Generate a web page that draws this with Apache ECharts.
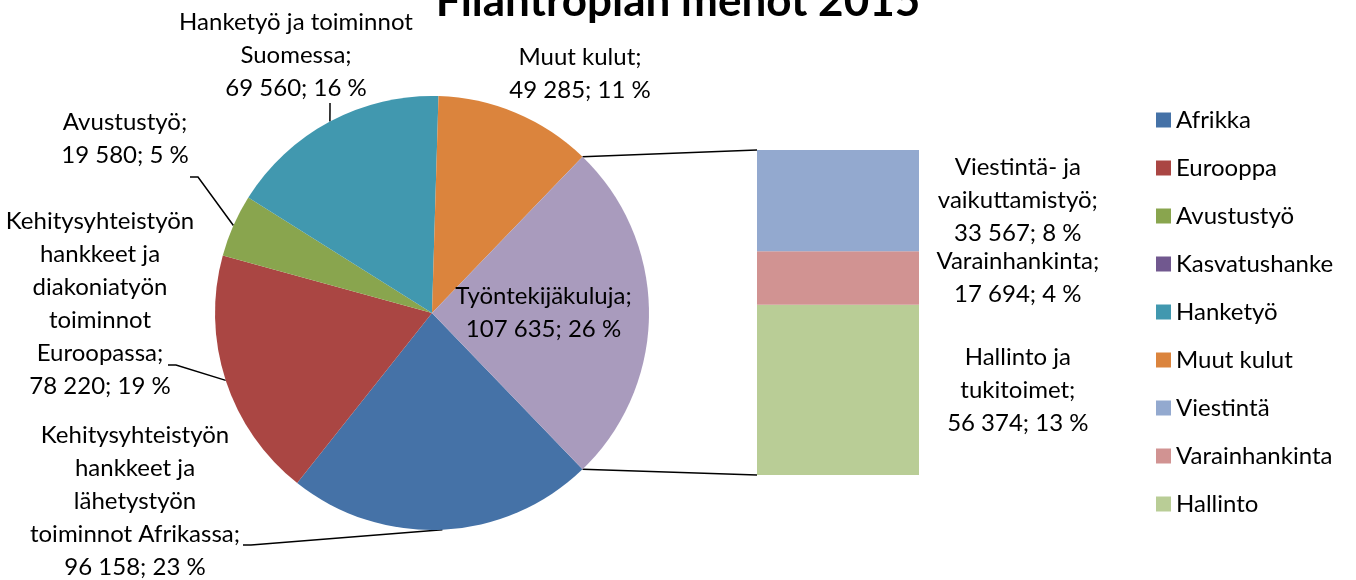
<!DOCTYPE html>
<html>
<head>
<meta charset="utf-8">
<script src="https://cdn.jsdelivr.net/npm/echarts@6/dist/echarts.min.js"></script>
<style>
  html, body { margin: 0; padding: 0; background: #ffffff; }
  #chart { width: 1356px; height: 580px; }
</style>
</head>
<body>
<div id="chart"></div>
<script>
// ---------- data ----------
const titleText = 'Filantropian menot 2015';

// pie slices (legend names, label texts, values, displayed shares)
const pieNames  = ['Afrikka', 'Eurooppa', 'Avustustyö', 'Kasvatushanke', 'Hanketyö', 'Muut kulut', 'Työntekijäkulut'];
const pieLabels = [
  'Kehitysyhteistyön\nhankkeet ja\nlähetystyön\ntoiminnot Afrikassa',
  'Kehitysyhteistyön\nhankkeet ja\ndiakoniatyön\ntoiminnot\nEuroopassa',
  'Avustustyö',
  'Kasvatushanke',
  'Hanketyö ja toiminnot\nSuomessa',
  'Muut kulut',
  'Työntekijäkuluja'
];
const pieValues = [96158, 78220, 19580, 0, 69560, 49285, 107635];
const pieShares = [23, 19, 5, 0, 16, 11, 26];

// breakdown bar of the "Työntekijäkulut" slice (bottom to top)
const barNames  = ['Hallinto', 'Varainhankinta', 'Viestintä'];
const barLabels = ['Hallinto ja\ntukitoimet', 'Varainhankinta', 'Viestintä- ja\nvaikuttamistyö'];
const barValues = [56374, 17694, 33567];
const barShares = [13, 4, 8];

const legendOrder = ['Afrikka', 'Eurooppa', 'Avustustyö', 'Kasvatushanke', 'Hanketyö', 'Muut kulut', 'Viestintä', 'Varainhankinta', 'Hallinto'];

// ---------- styling / layout ----------
const pieColors = ['#4572A7', '#AA4643', '#89A54E', '#71588F', '#4198AF', '#DB843D', '#A99BBD'];
const barColors = ['#B9CD96', '#D19392', '#93A9CF'];
const FONT = 'Lato, "Open Sans", sans-serif';
const FS = 24;
const LH = 33;
const pieCenter = [432, 313];
const pieRadius = 217;
const barGrid = { left: 757, top: 150, width: 162, height: 325 };

// label placement (center of text block, leader attachment point)
const pieLabelLayout = {
  'Afrikka':       { x: 135, y: 501, attach: [243, 545] },
  'Eurooppa':      { x: 100, y: 304, attach: [168, 365] },
  'Avustustyö':    { x: 125, y: 139, attach: [190, 177] },
  'Hanketyö':      { x: 296, y: 55,  attach: [330, 103], vertical: true },
  'Muut kulut':    { x: 580, y: 74,  attach: null }
};

function fmt(v) {
  return String(v).replace(/\B(?=(\d{3})+(?!\d))/g, ' ');
}

const otherIdx = pieNames.length - 1;
const pieTotal = pieValues.reduce((a, b) => a + b, 0);
const otherFrac = pieValues[otherIdx] / pieTotal;
const startAngle = -otherFrac * 180;

const pieData = pieNames.map((n, i) => {
  const item = {
    name: n,
    value: pieValues[i],
    itemStyle: { color: pieColors[i] }
  };
  if (i === otherIdx) {
    item.label = { position: 'inside', show: true };
    item.labelLine = { show: false };
  } else if (pieValues[i] === 0) {
    item.label = { show: false };
    item.labelLine = { show: false };
  } else if (!pieLabelLayout[n].attach) {
    item.labelLine = { show: false };
  }
  return item;
});

const barSeries = barNames.map((n, i) => ({
  type: 'bar',
  name: n,
  stack: 'other',
  data: [barValues[i]],
  barWidth: '100%',
  itemStyle: { color: barColors[i] },
  label: {
    show: true,
    position: ['161%', '50%'],
    align: 'center',
    verticalAlign: 'middle',
    color: '#000',
    fontFamily: FONT,
    fontSize: FS,
    lineHeight: LH,
    formatter: () => barLabels[i] + ';\n' + fmt(barValues[i]) + '; ' + barShares[i] + ' %'
  }
}));

const chart = echarts.init(document.getElementById('chart'), null, { renderer: 'canvas' });

chart.setOption({
  animation: false,
  backgroundColor: '#ffffff',
  textStyle: { fontFamily: FONT },
  title: {
    text: titleText,
    left: 'center',
    top: -25,
    textStyle: { fontFamily: FONT, fontWeight: 'bold', fontSize: 44, color: '#000' }
  },
  legend: {
    data: legendOrder,
    orient: 'vertical',
    left: 1151,
    top: 103,
    itemWidth: 15,
    itemHeight: 15,
    itemGap: 24,
    icon: 'rect',
    textStyle: { fontFamily: FONT, fontSize: FS, lineHeight: 24, color: '#000' },
    selectedMode: false
  },
  grid: Object.assign({ containLabel: false }, barGrid),
  xAxis: { type: 'category', data: ['x'], show: false },
  yAxis: { type: 'value', min: 0, max: pieValues[otherIdx], show: false },
  series: [
    {
      type: 'pie',
      center: pieCenter,
      radius: pieRadius,
      startAngle: startAngle,
      clockwise: true,
      avoidLabelOverlap: false,
      data: pieData,
      label: {
        show: true,
        color: '#000',
        fontFamily: FONT,
        fontSize: FS,
        lineHeight: LH,
        align: 'center',
        formatter: (p) => pieLabels[p.dataIndex] + ';\n' + fmt(pieValues[p.dataIndex]) + '; ' + pieShares[p.dataIndex] + ' %'
      },
      labelLine: { show: true, lineStyle: { color: '#000', width: 1.5 } },
      labelLayout: (params) => {
        const name = pieNames[params.dataIndex];
        const cfg = pieLabelLayout[name];
        if (!cfg) return {};
        const out = { x: cfg.x, y: cfg.y, align: 'center', verticalAlign: 'middle' };
        if (cfg.attach && params.labelLinePoints) {
          const p0 = params.labelLinePoints[0];
          const a = cfg.attach;
          const mid = cfg.vertical ? [a[0], a[1] + 6] : [a[0] + 8, a[1]];
          out.labelLinePoints = [p0, mid, a];
        }
        return out;
      }
    },
    ...barSeries
  ]
});

// connector lines between the "other" slice and the breakdown bar
const a = otherFrac * Math.PI;
const pTop = [pieCenter[0] + pieRadius * Math.cos(a), pieCenter[1] - pieRadius * Math.sin(a)];
const pBot = [pieCenter[0] + pieRadius * Math.cos(a), pieCenter[1] + pieRadius * Math.sin(a)];
const barTopPx = chart.convertToPixel({ xAxisIndex: 0, yAxisIndex: 0 }, [0, pieValues[otherIdx]]);
const barBotPx = chart.convertToPixel({ xAxisIndex: 0, yAxisIndex: 0 }, [0, 0]);
chart.setOption({
  graphic: [
    { type: 'line', shape: { x1: pTop[0], y1: pTop[1], x2: barGrid.left, y2: barTopPx[1] }, style: { stroke: '#000', lineWidth: 1.5 } },
    { type: 'line', shape: { x1: pBot[0], y1: pBot[1], x2: barGrid.left, y2: barBotPx[1] }, style: { stroke: '#000', lineWidth: 1.5 } }
  ]
});
</script>
</body>
</html>
